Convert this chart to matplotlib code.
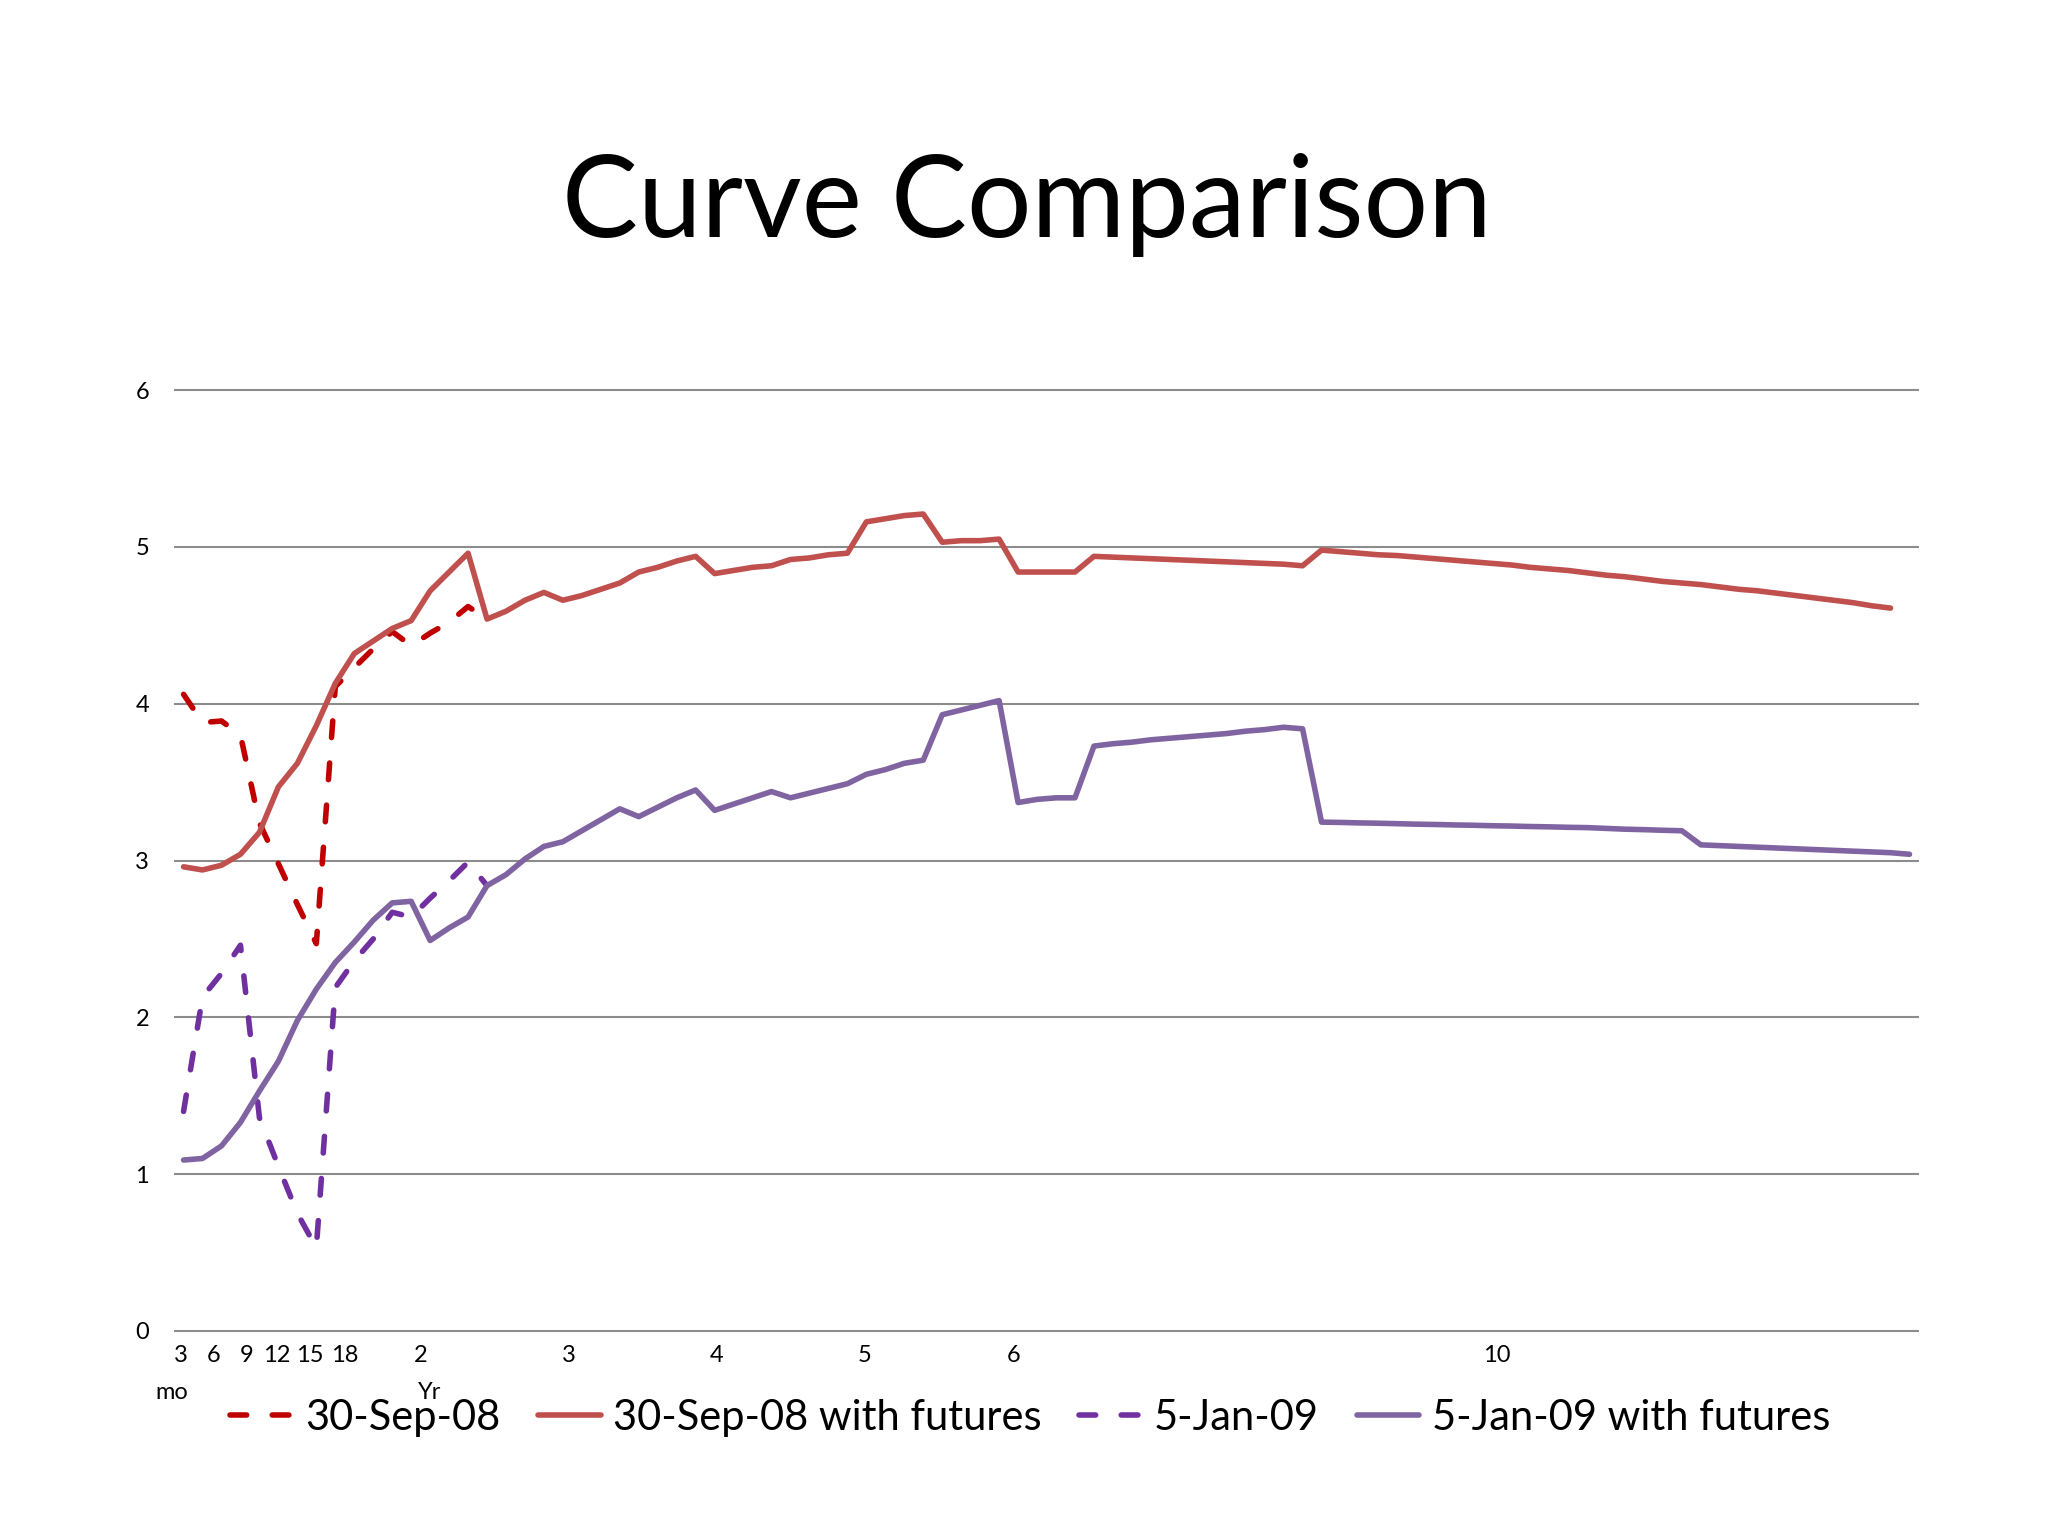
import matplotlib
matplotlib.use("Agg")
import matplotlib.pyplot as plt
import numpy as np

plt.rcParams['font.family'] = ['Lato', 'DejaVu Sans']

# x axis: category positions of the labels (the labels do not sit on every category)
tick_pos = [-0.13, 1.56, 3.35, 4.93, 6.67, 8.51, 12.52, 20.32, 28.12, 35.93, 43.78, 69.24]
tick_labels = ["3", "6", "9", "12", "15", "18", "2", "3", "4", "5", "6", "10"]
sub_labels = ["mo", "Yr"]
sub_pos = [-0.6, 13.0]

y_ticks = [0, 1, 2, 3, 4, 5, 6]

# 30-Sep-08 (cash curve, short end only)
sep08 = [4.06, 3.88, 3.89, 3.80, 3.24, 2.98, 2.72, 2.47, 4.11, 4.23,
         4.35, 4.46, 4.37, 4.45, 4.52, 4.62, 4.54]

# 30-Sep-08 with futures
sep08_fut = [2.96, 2.94, 2.97, 3.04, 3.18, 3.47, 3.62, 3.86, 4.13, 4.32,
             4.40, 4.48, 4.53, 4.72, 4.84, 4.96, 4.54, 4.59, 4.66, 4.71,
             4.66, 4.69, 4.73, 4.77, 4.84, 4.87, 4.91, 4.94, 4.83, 4.85,
             4.87, 4.88, 4.92, 4.93, 4.95, 4.96, 5.16, 5.18, 5.20, 5.21,
             5.03, 5.04, 5.04, 5.05, 4.84, 4.84, 4.84, 4.84, 4.94, 4.935,
             4.93, 4.925, 4.92, 4.915, 4.91, 4.905, 4.90, 4.895, 4.89, 4.88,
             4.98, 4.97, 4.96, 4.95, 4.945, 4.935, 4.925, 4.915, 4.905, 4.895,
             4.885, 4.87, 4.86, 4.85, 4.835, 4.82, 4.81, 4.795, 4.78, 4.77,
             4.76, 4.745, 4.73, 4.72, 4.705, 4.69, 4.675, 4.66, 4.645, 4.625,
             4.61]

# 5-Jan-09 (cash curve, short end only)
jan09 = [1.40, 2.13, 2.28, 2.46, 1.36, 1.05, 0.75, 0.53, 2.19, 2.36,
         2.50, 2.67, 2.64, 2.76, 2.87, 2.99, 2.84]

# 5-Jan-09 with futures
jan09_fut = [1.09, 1.10, 1.18, 1.33, 1.53, 1.72, 1.98, 2.18, 2.35, 2.48,
             2.62, 2.73, 2.74, 2.49, 2.57, 2.64, 2.84, 2.91, 3.01, 3.09,
             3.12, 3.19, 3.26, 3.33, 3.28, 3.34, 3.40, 3.45, 3.32, 3.36,
             3.40, 3.44, 3.40, 3.43, 3.46, 3.49, 3.55, 3.58, 3.62, 3.64,
             3.93, 3.96, 3.99, 4.02, 3.37, 3.39, 3.40, 3.40, 3.73, 3.745,
             3.755, 3.77, 3.78, 3.79, 3.80, 3.81, 3.825, 3.835, 3.85, 3.84,
             3.245, 3.243, 3.24, 3.238, 3.235, 3.232, 3.23, 3.227, 3.225, 3.222,
             3.22, 3.217, 3.215, 3.212, 3.21, 3.205, 3.20, 3.197, 3.193, 3.19,
             3.10, 3.095, 3.09, 3.085, 3.08, 3.075, 3.07, 3.065, 3.06, 3.055,
             3.05, 3.04]

n_cat = 92

fig = plt.figure(figsize=(20.48, 15.36), dpi=100)
ax = fig.add_axes([0.085, 0.1335, 0.852, 0.6125])

lw = 4.0
dash = (0, (3.0, 4.6))
ax.plot(np.arange(len(sep08)), sep08, color="#C00000", lw=lw, ls=dash,
        dash_capstyle="round", label="30-Sep-08")
ax.plot(np.arange(len(sep08_fut)), sep08_fut, color="#C0504D", lw=lw,
        solid_capstyle="round", label="30-Sep-08 with futures")
ax.plot(np.arange(len(jan09)), jan09, color="#7030A0", lw=lw, ls=dash,
        dash_capstyle="round", label="5-Jan-09")
ax.plot(np.arange(len(jan09_fut)), jan09_fut, color="#8064A2", lw=lw,
        solid_capstyle="round", label="5-Jan-09 with futures")

ax.set_xlim(-0.5, n_cat - 0.5)
ax.set_ylim(0, 6)
for v in y_ticks:
    ax.axhline(v, color="#8C8C8C", lw=1.5, zorder=0, clip_on=False,
               solid_capstyle="butt")

for s in ax.spines.values():
    s.set_visible(False)

ax.set_yticks(y_ticks)
ax.set_xticks(tick_pos, tick_labels)
ax.tick_params(axis="y", length=0, pad=18, labelsize=17)
ax.tick_params(axis="x", length=0, pad=10, labelsize=17)
for t, p in zip(sub_labels, sub_pos):
    ax.text(p, -0.065, t, transform=ax.get_xaxis_transform(),
            ha="center", va="center", fontsize=17)

fig.text(0.5016, 0.846, "Curve Comparison", ha="center", va="baseline",
         fontsize=82)

fig.legend(loc="center", bbox_to_anchor=(0.503, 0.077), ncol=4,
           frameon=False, fontsize=30, handlelength=1.5,
           handletextpad=0.3, columnspacing=0.9)

fig.savefig("out.png", dpi=100, facecolor="white")
